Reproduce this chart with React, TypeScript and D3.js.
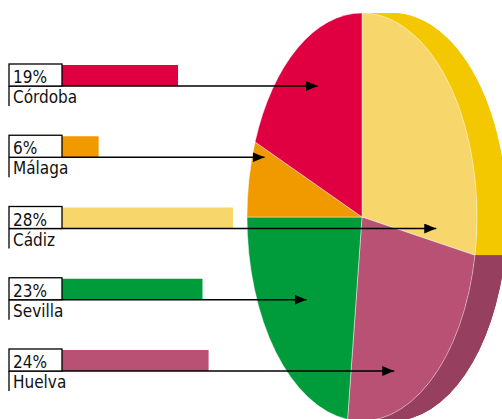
import * as React from 'react';
import * as d3 from 'd3';

// slices in pie order (clockwise from 12 o'clock)
const pieNames = ['Cádiz', 'Huelva', 'Sevilla', 'Málaga', 'Córdoba'];
const pieValues = [28, 24, 23, 6, 19];
const topColors = ['#F7D66B', '#B85173', '#009C3B', '#F09A00', '#E00042'];
const sideColors = ['#F4C800', '#963F5E', '#007A2E', '#C07B00', '#B00034'];

// legend order (top to bottom)
const labelNames = ['Córdoba', 'Málaga', 'Cádiz', 'Sevilla', 'Huelva'];
const labelTexts = ['19%', '6%', '28%', '23%', '24%'];

const W = 502;
const H = 419;
const cx = 362;
const cy = 217;
const rx = 115;
const ry = 204;
const depth = 30;
const R = 100;

export default function App() {
  const svgRef = React.useRef<SVGSVGElement>(null);

  React.useEffect(() => {
    if (!svgRef.current) return;
    const svg = d3.select(svgRef.current);
    svg.selectAll('*').remove();

    const data = pieNames.map((n, i) => ({ name: n, value: pieValues[i], i }));
    const arcs = d3
      .pie<any>()
      .sort(null)
      .value((d) => d.value)(data);

    const pt = (a: number, off = 0) => [cx + rx * Math.sin(a) + off, cy - ry * Math.cos(a)];

    // side (thickness) – only the right half is visible
    const sides = svg.append('g');
    arcs.forEach((a) => {
      const a0 = Math.max(a.startAngle, 0);
      const a1 = Math.min(a.endAngle, Math.PI);
      if (a1 <= a0) return;
      const p0 = pt(a0);
      const p1 = pt(a1);
      const q1 = pt(a1, depth);
      const q0 = pt(a0, depth);
      const d = `M${p0[0]},${p0[1]} A${rx},${ry} 0 0 1 ${p1[0]},${p1[1]} L${q1[0]},${q1[1]} A${rx},${ry} 0 0 0 ${q0[0]},${q0[1]} Z`;
      sides.append('path').attr('d', d).attr('fill', sideColors[a.data.i]);
      // fill the rim beyond
      const d2 = `M${q0[0]},${q0[1]} A${rx},${ry} 0 0 1 ${q1[0]},${q1[1]} L${p1[0]},${p1[1]} A${rx},${ry} 0 0 0 ${p0[0]},${p0[1]} Z`;
      sides.append('path').attr('d', d2).attr('fill', sideColors[a.data.i]);
    });

    // top face
    const arc = d3.arc<any>().innerRadius(0).outerRadius(R);
    svg
      .append('g')
      .attr('transform', `translate(${cx},${cy}) scale(${rx / R},${ry / R})`)
      .selectAll('path')
      .data(arcs)
      .enter()
      .append('path')
      .attr('d', arc)
      .attr('fill', (d) => topColors[d.data.i])
      .attr('stroke', 'rgba(255,255,255,0.55)')
      .attr('stroke-width', 0.8)
      .attr('vector-effect', 'non-scaling-stroke');

    // legend rows
    const rowY = d3.scalePoint<string>().domain(labelNames).range([64, 349]);
    const barX = d3.scaleLinear().domain([0, 28]).range([62, 233]);
    const boxX = 9;
    const boxH = 22;

    // find slice for a point on the top face
    const sliceAt = (x: number, y: number) => {
      const nx = (x - cx) / rx;
      const ny = (y - cy) / ry;
      if (nx * nx + ny * ny > 1) return null;
      let a = Math.atan2(nx, -ny);
      if (a < 0) a += Math.PI * 2;
      const s = arcs.find((d) => a >= d.startAngle && a < d.endAngle);
      return s ? s.data.name : null;
    };

    const defs = svg.append('defs');
    defs
      .append('marker')
      .attr('id', 'arrow')
      .attr('viewBox', '0 0 12 10')
      .attr('refX', 12)
      .attr('refY', 5)
      .attr('markerWidth', 12)
      .attr('markerHeight', 10)
      .attr('markerUnits', 'userSpaceOnUse')
      .attr('orient', 'auto')
      .append('path')
      .attr('d', 'M0,0 L12,5 L0,10 Z')
      .attr('fill', '#000');

    const font = "'Liberation Sans Narrow', 'Arial Narrow', 'DejaVu Sans Condensed', sans-serif";

    labelNames.forEach((name, i) => {
      const top = rowY(name) as number;
      const bottom = top + boxH;
      const pIdx = pieNames.indexOf(name);
      const val = pieValues[pIdx];
      const g = svg.append('g');

      g.append('rect')
        .attr('x', barX(0))
        .attr('y', top + 1)
        .attr('width', barX(val) - barX(0))
        .attr('height', boxH - 1)
        .attr('fill', topColors[pIdx]);

      // arrow target: middle of the slice's span at this height
      const xs = d3.range(cx - rx, cx + rx, 0.5).filter((x) => sliceAt(x, bottom) === name);
      const tip = xs.length ? ((d3.min(xs) as number) + (d3.max(xs) as number)) / 2 : cx;

      g.append('line')
        .attr('x1', boxX)
        .attr('y1', bottom)
        .attr('x2', tip)
        .attr('y2', bottom)
        .attr('stroke', '#000')
        .attr('stroke-width', 1.4)
        .attr('marker-end', 'url(#arrow)');

      g.append('rect')
        .attr('x', boxX)
        .attr('y', top)
        .attr('width', barX(0) - boxX)
        .attr('height', boxH)
        .attr('fill', '#fff')
        .attr('stroke', '#000')
        .attr('stroke-width', 1.3);

      g.append('line')
        .attr('x1', boxX)
        .attr('y1', bottom)
        .attr('x2', boxX)
        .attr('y2', bottom + 20)
        .attr('stroke', '#000')
        .attr('stroke-width', 1.3);

      g.append('text')
        .attr('x', boxX + 4)
        .attr('y', top + 19)
        .attr('font-family', font)
        .attr('font-size', 17)
        .attr('fill', '#111')
        .text(labelTexts[i]);

      g.append('text')
        .attr('x', boxX + 4)
        .attr('y', bottom + 17)
        .attr('font-family', font)
        .attr('font-size', 17)
        .attr('fill', '#111')
        .text(name);
    });
  }, []);

  return (
    <svg
      ref={svgRef}
      width={W}
      height={H}
      style={{ position: 'absolute', left: 0, top: 0, background: '#fff' }}
    />
  );
}
